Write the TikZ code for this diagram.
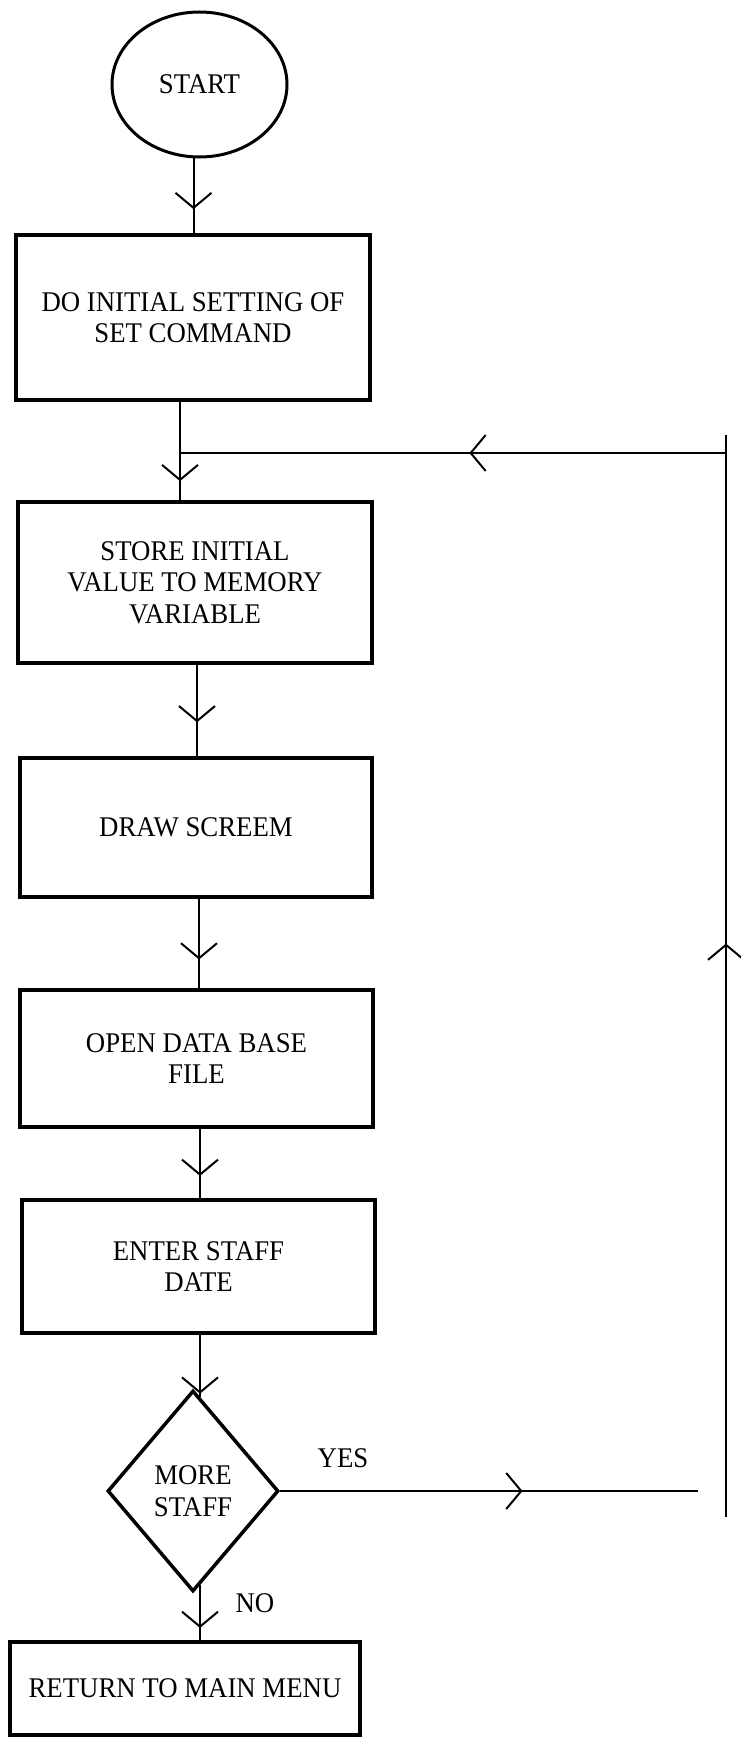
\documentclass[tikz,border=0pt]{standalone}
\usepackage{fontspec}
\setmainfont{Liberation Serif}[FakeStretch=0.94]
\usetikzlibrary{shapes.geometric,arrows.meta,decorations.markings}
\begin{document}
\begin{tikzpicture}[x=1pt,y=-1pt,
  txt/.style={font=\fontsize{28.5}{31.5}\selectfont, align=center, text=black},
  procbox/.style={txt, draw, line width=4pt, rectangle, inner sep=0pt},
  conn/.style={draw, line width=2pt},
  midarrow/.style={postaction={decorate,decoration={markings,mark=at position #1 with {\arrow[line width=2pt]{Straight Barb[length=15pt,width=36pt]}}}}}
]
\useasboundingbox (0,0) rectangle (740,1739);

\node[ellipse, draw, line width=3pt, minimum width=175pt, minimum height=145pt, inner sep=0pt, txt] (start) at (199.5,84.5) {START};
\node[procbox, minimum width=354pt, minimum height=165pt] (b1) at (193,317.5) {DO INITIAL SETTING OF\\SET COMMAND};
\node[procbox, minimum width=354pt, minimum height=161pt] (b2) at (195,582.5) {STORE INITIAL\\VALUE TO MEMORY\\VARIABLE};
\node[procbox, minimum width=352pt, minimum height=139pt] (b3) at (196,827.5) {DRAW SCREEM};
\node[procbox, minimum width=353pt, minimum height=137pt] (b4) at (196.5,1058.5) {OPEN DATA BASE\\FILE};
\node[procbox, minimum width=353pt, minimum height=133pt] (b5) at (198.5,1266.5) {ENTER STAFF\\DATE};
\node[diamond, draw, line width=3.5pt, minimum width=171pt, minimum height=201pt, inner sep=0pt, txt] (dia) at (193,1491) {MORE\\STAFF};
\node[procbox, minimum width=350pt, minimum height=93pt] (b6) at (185,1688.5) {RETURN TO MAIN MENU};
\node[txt] (yes) at (343,1458) {YES};
\node[txt] (no) at (255,1603) {NO};

\coordinate (junc) at (180,453);
\coordinate (rtop) at (726,435);
\coordinate (rbot) at (726,1517);
\coordinate (yesend) at (698,1495);

\draw[conn, midarrow=0.68] ([xshift=-6pt]start.south) -- ([xshift=-6pt]start.south |- b1.north);
\draw[conn] (b1.south -| junc) -- (junc);
\draw[conn, midarrow=0.6] (junc) -- (junc |- b2.north);
\draw[conn, midarrow=0.47] (rtop |- junc) -- (junc);
\draw[conn, midarrow=0.53] (rbot) -- (rtop);
\draw[conn, midarrow=0.63] ([xshift=2pt]b2.south) -- ([xshift=2pt]b2.south |- b3.north);
\draw[conn, midarrow=0.68] ([xshift=3pt]b3.south) -- ([xshift=3pt]b3.south |- b4.north);
\draw[conn, midarrow=0.68] ([xshift=3.5pt]b4.south) -- ([xshift=3.5pt]b4.south |- b5.north);
\draw[conn, midarrow=0.95] ([xshift=7pt]dia.north |- b5.south) -- ([xshift=7pt,yshift=-8pt]dia.north);
\draw[conn, midarrow=0.78] ([xshift=7pt,yshift=8pt]dia.south) -- ([xshift=7pt]dia.south |- b6.north);
\draw[conn, midarrow=0.58] (dia.east) -- (dia.east -| yesend);
\end{tikzpicture}
\end{document}
